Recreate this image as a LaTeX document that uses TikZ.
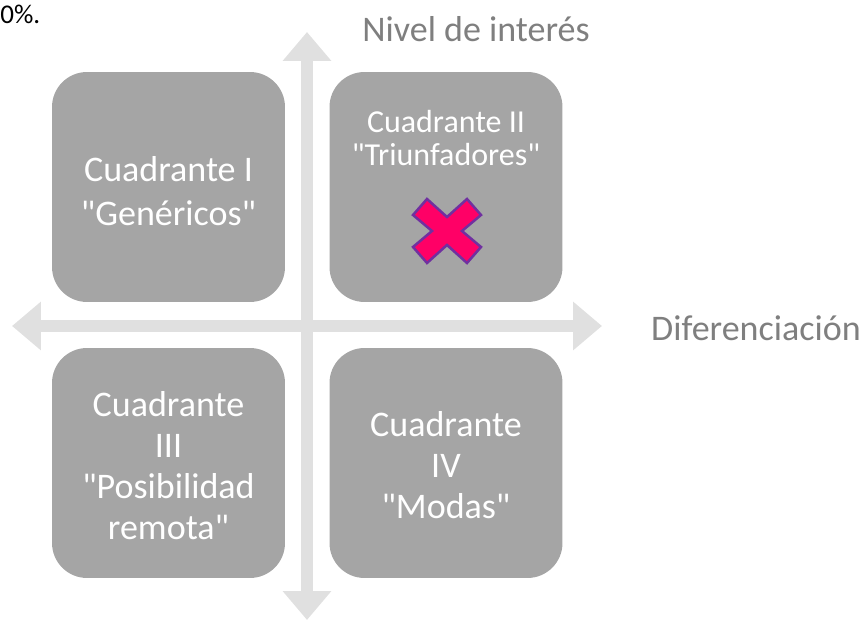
\documentclass[tikz,border=0pt]{standalone}
\usepackage{fontspec}
\setmainfont{Carlito}[Ligatures=TeXOff]
\usepackage{tikz}
\usetikzlibrary{arrows.meta,positioning}
\definecolor{axisgray}{RGB}{224,224,224}
\definecolor{boxgray}{RGB}{165,165,165}
\definecolor{labelgray}{RGB}{127,127,127}
\definecolor{crossfill}{RGB}{255,0,102}
\definecolor{crossline}{RGB}{112,48,160}
\begin{document}
\begin{tikzpicture}[x=0.02cm,y=-0.02cm,
  quad/.style={fill=boxgray,rounded corners=0.7cm,minimum width=4.66cm,minimum height=4.6cm,inner sep=0pt},
  qtxt/.style={text=white,align=center,font=\fontsize{20.5}{23.3}\selectfont},
  axis/.style={draw=axisgray,line width=0.24cm,{Triangle[width=0.94cm,length=0.58cm]}-{Triangle[width=0.94cm,length=0.58cm]}},
  lbl/.style={text=labelgray,font=\fontsize{20.5}{25}\selectfont},
  cruz/.style={fill=crossfill,draw=crossline,line width=0.05cm,line join=miter}]
\useasboundingbox (0,0) rectangle (867,621);
% axes
\coordinate (ytop) at (307,32);
\coordinate (ybot) at (307,620);
\coordinate (xleft) at (12,326);
\coordinate (xright) at (602,326);
\draw[axis] (ybot)--(ytop);
\draw[axis] (xleft)--(xright);
% quadrants
\node[quad] (q1) at (168.5,187) {};
\node[quad] (q2) at (446,187) {};
\node[quad] (q3) at (168.5,463) {};
\node[quad] (q4) at (446,463) {};
\node[qtxt,font=\fontsize{20.5}{25}\selectfont] (t1) at (168.5,191) {Cuadrante I\\"Genéricos"};
\node[qtxt,font=\fontsize{18.2}{18.4}\selectfont] (t2) at (446,138) {Cuadrante II\\"Triunfadores"};
\node[qtxt] (t3) at (168.5,466) {Cuadrante\\III\\"Posibilidad\\remota"};
\node[qtxt] (t4) at (446,465) {Cuadrante\\IV\\"Modas"};
% axis labels
\node[lbl] (ylbl) at (476,29) {Nivel de interés};
\node[lbl] (xlbl) at (756,328) {Diferenciación};
\node[anchor=west,inner sep=0pt,font=\fontsize{15.4}{18}\selectfont] (pct) at (0,14) {0\%.};
% cross
\draw[cruz,shift={(447,231)}] (-20,-32)--(-34,-16)--(-15,0)--(-34,16)--(-20,32)--(0,14)
  --(20,32)--(34,16)--(15,0)--(34,-16)--(20,-32)--(0,-14)--cycle;
\end{tikzpicture}
\end{document}
